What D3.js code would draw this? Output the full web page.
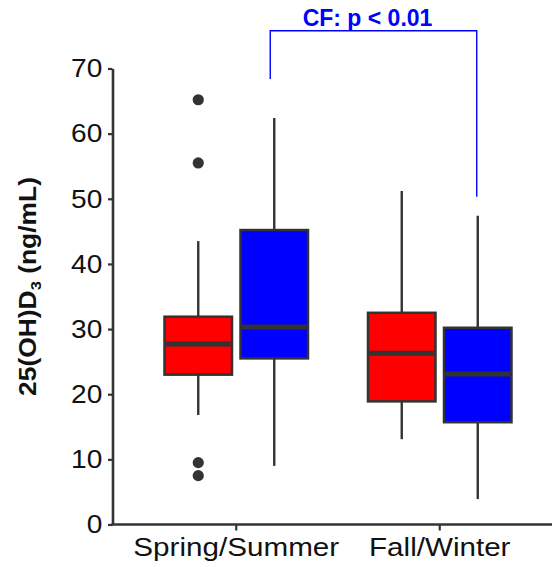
<!DOCTYPE html>
<html>
<head>
<meta charset="utf-8">
<script src="https://cdn.jsdelivr.net/npm/d3@7"></script>
<style>
  html, body { margin: 0; padding: 0; background: #fff; }
  svg { display: block; font-family: "Liberation Sans", Arial, sans-serif; }
</style>
</head>
<body>
<svg id="chart" width="552" height="567"></svg>
<script>
// Season groups and the two study groups drawn side by side in each
const categories = ["Spring/Summer", "Fall/Winter"];
const series = ["Control", "CF"];
const seriesColors = ["#ff0000", "#0000ff"];

// Five-number summaries, 25(OH)D3 in ng/mL, one entry per season
const controlStats = [
  { min: 16.8, q1: 23.0, median: 27.7, q3: 31.9, max: 43.5 },
  { min: 13.1, q1: 18.9, median: 26.3, q3: 32.5, max: 51.2 }
];
const cfStats = [
  { min: 9.0, q1: 25.5, median: 30.3, q3: 45.2, max: 62.4 },
  { min: 3.9, q1: 15.7, median: 23.1, q3: 30.2, max: 47.4 }
];
const controlOutliers = [[65.2, 55.5, 9.5, 7.5], []];
const cfOutliers = [[], []];

const yTicks = [0, 10, 20, 30, 40, 50, 60, 70];
const yDomain = [0, 70];

// Seasonal comparison within the CF group
const comparisonLabel = "CF: p < 0.01";
const comparisonSeries = "CF";
const comparisonLevels = [75.8, 68.4, 50.3]; // bar height, left drop end, right drop end

const svg = d3.select("#chart");
const axisColor = "#333333";
const inkColor = "#111111";

const y = d3.scaleLinear().domain(yDomain).range([524.5, 68.5]);
const x = d3.scaleBand().domain(categories).range([134.5, 541.5]);
const xs = d3.scaleBand().domain(series).range([-73, 73]).paddingInner(0.079);
const axisX = 112.5;

const boxCenter = (cat, s) => x(cat) + x.bandwidth() / 2 + xs(s) + xs.bandwidth() / 2;

const statsBySeries = { Control: controlStats, CF: cfStats };
const outliersBySeries = { Control: controlOutliers, CF: cfOutliers };

const boxes = [];
series.forEach((s, si) => {
  categories.forEach((c, ci) => {
    boxes.push({ cat: c, series: s, color: seriesColors[si], stats: statsBySeries[s][ci], outliers: outliersBySeries[s][ci] });
  });
});

// Stretch a text element along its own x direction so it spans a given width
function fitWidth(node, target) {
  const w = node.getBBox().width;
  return target / w;
}

// Y axis
const yAxis = svg.append("g")
  .attr("transform", `translate(${axisX},0)`)
  .call(d3.axisLeft(y).tickValues(yTicks).tickSize(4.5).tickSizeOuter(0).tickPadding(5));
yAxis.select(".domain").attr("stroke", axisColor).attr("stroke-width", 2.6);
yAxis.selectAll(".tick line").attr("stroke", axisColor).attr("stroke-width", 2.2);
yAxis.selectAll(".tick text")
  .attr("font-size", 26)
  .attr("fill", inkColor)
  .attr("font-family", "'Liberation Sans', Arial, sans-serif")
  .attr("transform", "scale(1.08,1)");

// X axis: ticks at the season centres, baseline running to the right edge
const xAxis = svg.append("g")
  .attr("transform", `translate(0,${y(0)})`)
  .call(d3.axisBottom(x).tickSize(6).tickSizeOuter(0));
xAxis.select(".domain").remove();
xAxis.selectAll(".tick line").attr("stroke", axisColor).attr("stroke-width", 2.2);
xAxis.selectAll(".tick text")
  .attr("font-size", 25)
  .attr("fill", inkColor)
  .attr("font-family", "'Liberation Sans', Arial, sans-serif")
  .attr("y", 32).attr("dy", 0);
const xTargets = { "Spring/Summer": 206, "Fall/Winter": 141.5 };
xAxis.selectAll(".tick text").each(function(d) {
  const s = fitWidth(this, xTargets[d]);
  d3.select(this).attr("transform", `scale(${s},1)`);
});
svg.append("line")
  .attr("x1", axisX - 1.3).attr("x2", 552)
  .attr("y1", y(0)).attr("y2", y(0))
  .attr("stroke", axisColor).attr("stroke-width", 2.6);

// Box plots
const g = svg.append("g");
const bw = xs.bandwidth();
const boxStroke = 2.5;
boxes.forEach(b => {
  const cx = boxCenter(b.cat, b.series);
  const st = b.stats;
  // whiskers
  g.append("line").attr("x1", cx).attr("x2", cx).attr("y1", y(st.q3)).attr("y2", y(st.max))
    .attr("stroke", axisColor).attr("stroke-width", 2.4);
  g.append("line").attr("x1", cx).attr("x2", cx).attr("y1", y(st.q1)).attr("y2", y(st.min))
    .attr("stroke", axisColor).attr("stroke-width", 2.4);
  // box
  g.append("rect")
    .attr("x", cx - bw / 2 + boxStroke / 2)
    .attr("width", bw - boxStroke)
    .attr("y", y(st.q3))
    .attr("height", y(st.q1) - y(st.q3))
    .attr("fill", b.color)
    .attr("stroke", axisColor).attr("stroke-width", boxStroke);
  // median
  g.append("line")
    .attr("x1", cx - bw / 2 + boxStroke).attr("x2", cx + bw / 2 - boxStroke)
    .attr("y1", y(st.median)).attr("y2", y(st.median))
    .attr("stroke", axisColor).attr("stroke-width", 5);
  // outliers
  g.selectAll(null).data(b.outliers).enter().append("circle")
    .attr("cx", cx).attr("cy", d => y(d)).attr("r", 5.6)
    .attr("fill", axisColor);
});

// Significance bracket between the two CF boxes
const bx1 = boxCenter(categories[0], comparisonSeries) - 4;
const bx2 = boxCenter(categories[1], comparisonSeries) - 1;
svg.append("path")
  .attr("d", `M${bx1},${y(comparisonLevels[1])}V${y(comparisonLevels[0])}H${bx2}V${y(comparisonLevels[2])}`)
  .attr("fill", "none").attr("stroke", "#0000ff").attr("stroke-width", 1.4);
svg.append("text")
  .attr("x", (bx1 + bx2) / 2 - 6).attr("y", y(comparisonLevels[0]) - 4.5)
  .attr("text-anchor", "middle")
  .attr("font-size", 23).attr("font-weight", "bold")
  .attr("fill", "#0000ff")
  .text(comparisonLabel);

// Y axis title with subscript
const title = svg.append("text")
  .attr("text-anchor", "middle")
  .attr("font-size", 24).attr("font-weight", "bold")
  .attr("fill", inkColor);
title.append("tspan").text("25(OH)D");
title.append("tspan").attr("font-size", 15).attr("dy", 5).text("3");
title.append("tspan").attr("dy", -5).text(" (ng/mL)");
const ts = fitWidth(title.node(), 219);
title.attr("transform", `translate(35.5,286.5) rotate(-90) scale(${ts},1)`);
</script>
</body>
</html>
